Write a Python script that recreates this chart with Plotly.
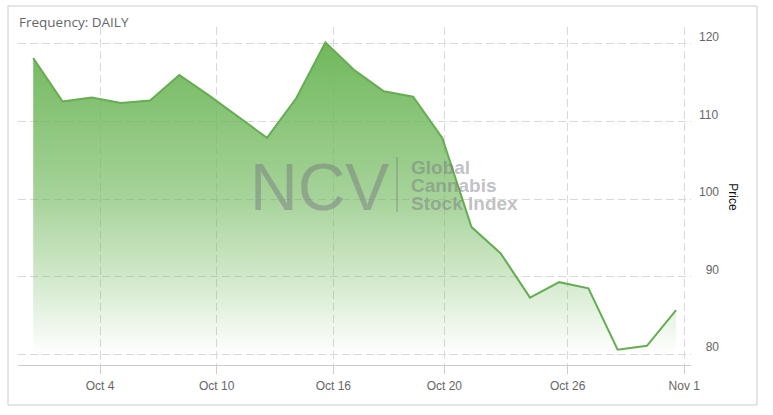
import plotly.graph_objects as go

# NCV Global Cannabis Stock Index, daily closes (trading days)
dates = ["2018-10-02", "2018-10-03", "2018-10-04", "2018-10-05", "2018-10-08",
         "2018-10-09", "2018-10-10", "2018-10-11", "2018-10-12", "2018-10-15",
         "2018-10-16", "2018-10-17", "2018-10-18", "2018-10-19", "2018-10-22",
         "2018-10-23", "2018-10-24", "2018-10-25", "2018-10-26", "2018-10-29",
         "2018-10-30", "2018-10-31", "2018-11-01"]
prices = [118.2, 112.6, 113.1, 112.4, 112.7, 116.0, 113.4, 110.6, 107.9, 113.0,
          120.2, 116.6, 113.9, 113.2, 107.9, 96.4, 93.0, 87.3, 89.3, 88.5,
          80.6, 81.1, 85.7]

tick_labels = ["Oct 4", "Oct 10", "Oct 16", "Oct 20", "Oct 26", "Nov 1"]
tick_pos = [2.29, 6.28, 10.27, 14.07, 18.29, 22.28]
price_ticks = [80, 90, 100, 110, 120]

GREEN = "112,184,92"
GRID = "#d9d9d9"
LABEL = "#666666"
WM = "rgba(115,115,125,0.45)"

x = list(range(len(dates)))

fig = go.Figure()

fig.add_trace(go.Scatter(
    x=x,
    y=prices,
    mode="lines",
    line=dict(color="#66ad52", width=2),
    fill="tozeroy",
    fillgradient=dict(
        type="vertical",
        start=80,
        stop=120.2,
        colorscale=[
            [0.0, f"rgba({GREEN},0.0)"],
            [0.27, f"rgba({GREEN},0.35)"],
            [0.5, f"rgba({GREEN},0.62)"],
            [1.0, f"rgba({GREEN},1.0)"],
        ],
    ),
    customdata=dates,
    hovertemplate="%{customdata}<br>%{y:.2f}<extra></extra>",
    showlegend=False,
))

# watermark
fig.add_annotation(x=0.4487, y=0.5275, xref="paper", yref="paper", text="NCV",
                   showarrow=False, font=dict(family="Liberation Sans", size=66, color=WM))
wm_lines = "<br>".join(f"<span style='font-size:19px'><b>{t}</b></span>"
                       for t in ["Global", "Cannabis", "Stock Index"])
fig.add_annotation(x=0.5805, y=0.5296, xref="paper", yref="paper", text=wm_lines,
                   showarrow=False, xanchor="left", yanchor="middle", align="left",
                   font=dict(family="Liberation Sans", size=13.8, color=WM))
fig.add_shape(type="line", xref="paper", yref="paper", x0=0.5632, x1=0.5632,
              y0=0.4527, y1=0.6154, line=dict(color=WM, width=1.5))

# header + axis title
fig.add_annotation(x=-0.0015, y=1.0148, xref="paper", yref="paper", text="Frequency: DAILY",
                   showarrow=False, xanchor="left", yanchor="middle",
                   font=dict(family="Open Sans", size=13.5, color=LABEL))
fig.add_annotation(x=1.0758, y=0.496, xref="paper", yref="paper", text="Price",
                   showarrow=False, textangle=90,
                   font=dict(family="Liberation Sans", size=12, color="#111111"))

# outer frame
fig.add_shape(type="rect", xref="paper", yref="paper", x0=-0.0149, x1=1.098,
              y0=-0.1183, y1=1.0621, line=dict(color="#cccccc", width=1), layer="below")

fig.update_layout(
    width=773,
    height=415,
    margin=dict(l=18, r=82, t=27, b=50),
    paper_bgcolor="white",
    plot_bgcolor="white",
    font=dict(family="Liberation Sans", size=12, color=LABEL),
    xaxis=dict(
        range=[-0.52, 22.51],
        tickvals=tick_pos,
        ticktext=tick_labels,
        showgrid=True,
        gridcolor=GRID,
        griddash="8px,4px",
        zeroline=False,
        showline=True,
        linecolor="#cccccc",
        ticks="outside",
        ticklen=8,
        tickcolor="#cccccc",
        ticklabelstandoff=2,
        tickfont=dict(size=12, color=LABEL),
    ),
    yaxis=dict(
        side="right",
        range=[78.62, 122.19],
        tickvals=price_ticks,
        ticktext=[f"{v:>3}".replace(" ", "\u2007") for v in price_ticks],
        showgrid=True,
        gridcolor=GRID,
        griddash="8px,4px",
        zeroline=False,
        showline=False,
        ticks="",
        ticklabelstandoff=7,
        ticklabelshift=-7,
        tickfont=dict(size=12, color=LABEL),
    ),
)

fig.write_html("out.html", config={"displayModeBar": False},
               post_script="document.body.style.margin='0';")
